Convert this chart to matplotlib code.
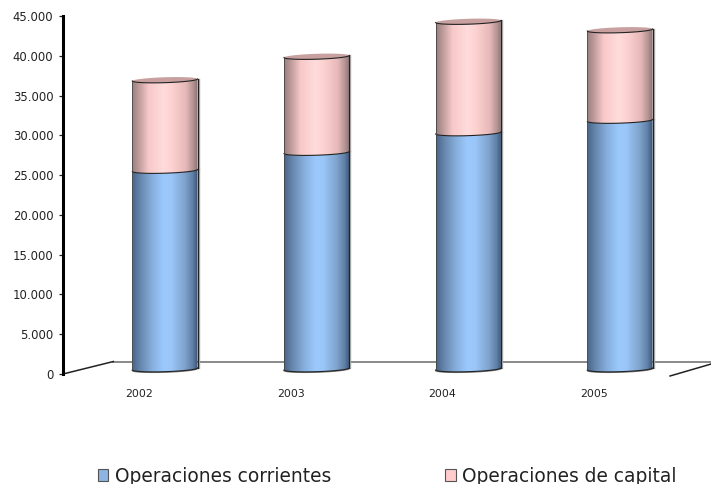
import numpy as np
import matplotlib.pyplot as plt
from matplotlib.colors import LinearSegmentedColormap
from matplotlib.patches import Patch, Polygon
from matplotlib.ticker import FuncFormatter

years = ['2002', '2003', '2004', '2005']
corrientes = [24950, 27210, 29670, 31240]
capital = [11380, 12070, 14010, 11370]

W = 0.43
DEPTH = 630      # the 3D floor lifts the cylinders off the axis zero
RY = 340         # half height of the ellipses
TILT = 130       # right side sits a bit higher than the left

blue = LinearSegmentedColormap.from_list('blue', [(0, '#48658a'), (0.12, '#6585ab'), (0.3, '#86aedc'), (0.48, '#9cc9fd'), (0.6, '#9ac6f8'), (0.8, '#7fa3cc'), (0.92, '#5f80a8'), (1, '#3a5272')])
pink = LinearSegmentedColormap.from_list('pink', [(0, '#9a7e7e'), (0.1, '#bd9a9a'), (0.25, '#f8c8c8'), (0.48, '#ffdcdc'), (0.62, '#fdd0d0'), (0.82, '#e6b8b8'), (0.93, '#b39292'), (1, '#8a7070')])

plt.rcParams['font.family'] = 'DejaVu Sans'
fig = plt.figure(figsize=(7.11, 4.84), dpi=100)
ax = fig.add_axes([63 / 711, 1 - 374 / 484, 648 / 711, 358 / 484])

XMIN, XMAX = -0.672, 3.6
YMIN, YMAX = 0, 45000


def arc(c, v, t):
    return c + W / 2 * np.cos(t), v + RY * np.sin(t) + TILT * np.cos(t)


def cylinder(c, low, high, cmap, top_color=None):
    t = np.linspace(np.pi, 2 * np.pi, 40)
    x1, y1 = arc(c, low, t)
    x2, y2 = arc(c, high, t[::-1])
    body = Polygon(np.column_stack([np.r_[x1, x2], np.r_[y1, y2]]), closed=True, facecolor='none', edgecolor='none', zorder=3)
    ax.add_patch(body)
    grad = np.linspace(0, 1, 256).reshape(1, -1)
    im = ax.imshow(grad, cmap=cmap, extent=[c - W / 2, c + W / 2, low - RY * 2, high + RY * 2], aspect='auto', zorder=3)
    im.set_clip_path(body)
    ax.plot(x1, y1, color='#222222', lw=0.8, zorder=4)
    ax.plot([x1[0], x2[-1]], [y1[0], y2[-1]], color='#444444', lw=0.6, zorder=4)
    ax.plot([x1[-1], x2[0]], [y1[-1], y2[0]], color='#222222', lw=0.8, zorder=4)
    ax.plot(np.array([x1[-1], x2[0]]) + 0.008, [y1[-1], y2[0]], color='#aaaaaa', lw=1, zorder=2)
    if top_color:
        tt = np.linspace(0, 2 * np.pi, 80)
        xt, yt = arc(c, high, tt)
        ax.fill(xt, yt, facecolor=top_color, edgecolor='none', zorder=5)
        xf, yf = arc(c, high, t)
        ax.plot(xf, yf, color='#222222', lw=0.8, zorder=6)


for i in range(len(years)):
    base = DEPTH
    mid = base + corrientes[i]
    top = mid + capital[i]
    # bottom shadow under the front arc
    xb, yb = arc(i, base, np.linspace(np.pi, 2 * np.pi, 40))
    ax.plot(xb, yb - 60, color='#777777', lw=1, zorder=2)
    cylinder(i, base, mid, blue)
    cylinder(i, mid, top, pink, '#c9a0a0')

# floor of the 3D box
ax.plot([-0.672, -0.34], [0, 1570], color='#222222', lw=1.1, zorder=2, clip_on=False)
ax.plot([-0.34, 3.6], [1480, 1480], color='#808080', lw=1.3, zorder=1)
ax.plot([3.33, 3.6], [-250, 1250], color='#222222', lw=1.1, zorder=2, clip_on=False)

ax.set_xlim(XMIN, XMAX)
ax.set_ylim(YMIN, YMAX)
ax.set_xticks(np.arange(len(years)) - 0.17)
ax.set_xticklabels(years)
ax.set_yticks(np.arange(0, 45001, 5000))
ax.yaxis.set_major_formatter(FuncFormatter(lambda v, p: f'{int(v):,}'.replace(',', '.')))
ax.tick_params(axis='x', length=0, pad=11, labelsize=7.8, colors='#222222')
ax.tick_params(axis='y', length=3, width=0.9, pad=4, labelsize=8.4, colors='#222222')
for s in ['top', 'right', 'bottom']:
    ax.spines[s].set_visible(False)
ax.spines['left'].set_linewidth(2.2)

handles = [Patch(facecolor='#8db4e2', edgecolor='#555555', lw=0.8), Patch(facecolor='#ffcccc', edgecolor='#555555', lw=0.8)]
fig.legend(handles, ['Operaciones corrientes', 'Operaciones de capital'], loc='center left', bbox_to_anchor=(98 / 711, 1 - 476 / 484), ncol=2, frameon=False, fontsize=13.4, handlelength=0.55, handleheight=0.55, handletextpad=0.35, columnspacing=6.15, borderpad=0, borderaxespad=0, labelcolor='#222222')

fig.savefig('out.png', dpi=100)
